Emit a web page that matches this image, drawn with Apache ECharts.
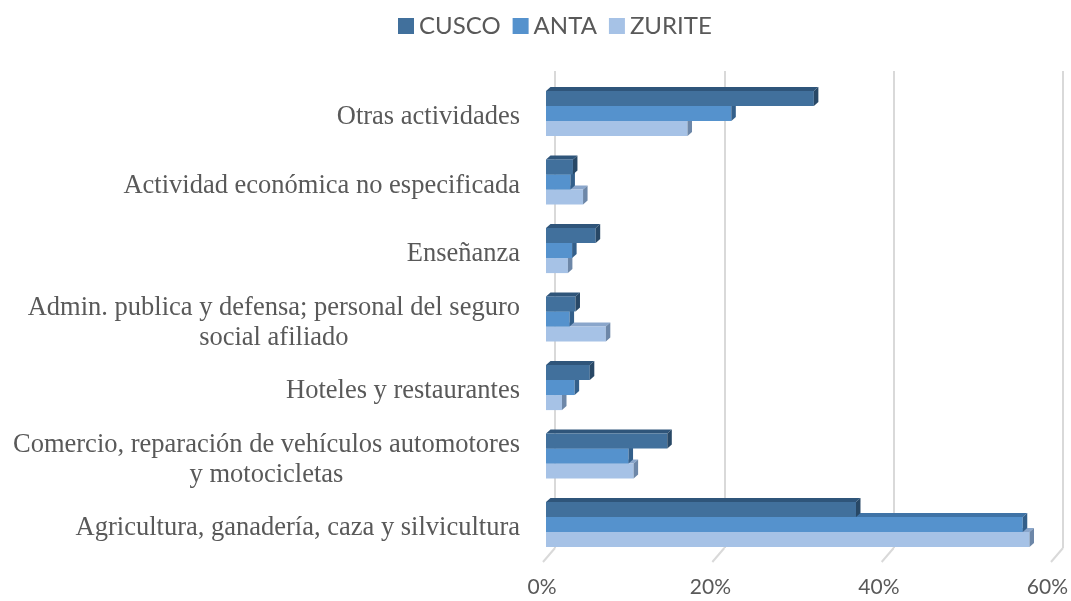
<!DOCTYPE html>
<html>
<head>
<meta charset="utf-8">
<script src="https://cdn.jsdelivr.net/npm/echarts@6/dist/echarts.min.js"></script>
<style>
 html, body { margin: 0; background: #fff; }
 #main { width: 1071px; height: 601px; }
</style>
</head>
<body>
<div id="main"></div>
<script>
// categorias de abajo hacia arriba
var categories = [
  'Agricultura, ganadería, caza y silvicultura',
  'Comercio, reparación de vehículos automotores\ny motocicletas',
  'Hoteles y restaurantes',
  'Admin. publica y defensa; personal del seguro\nsocial afiliado',
  'Enseñanza',
  'Actividad económica no especificada',
  'Otras actividades'
];
var cusco  = [36.8, 14.4, 5.2, 3.5, 5.9, 3.2, 31.8];
var anta   = [56.6, 9.8, 3.4, 2.8, 3.1, 2.9, 22.0];
var zurite = [57.4, 10.4, 1.9, 7.1, 2.6, 4.4, 16.8];
var xTicks = [0, 20, 40, 60];

var myChart = echarts.init(document.getElementById('main'));

// barra con efecto 3D (cara frontal, superior y lateral)
function bar3d(slot, front, top, side) {
  return function (params, api) {
    var v = api.value(0), c = api.value(1);
    var p0 = api.coord([0, c]), p1 = api.coord([v, c]);
    var band = api.size([0, 1])[1];
    var h = band * 0.22, dx = 4.5, dy = 4;
    var y0 = p0[1] - 1.5 * h + slot * h, y1 = y0 + h;
    var x0 = p0[0], x1 = p1[0];
    return {
      type: 'group',
      children: [
        { type: 'polygon', shape: { points: [[x0, y0], [x0 + dx, y0 - dy], [x1 + dx, y0 - dy], [x1, y0]] }, style: { fill: top } },
        { type: 'rect', shape: { x: x0, y: y0, width: x1 - x0, height: h }, style: { fill: front } },
        { type: 'polygon', shape: { points: [[x1, y0], [x1 + dx, y0 - dy], [x1 + dx, y1 - dy], [x1, y1]] }, style: { fill: side } }
      ]
    };
  };
}

function toData(arr) {
  return arr.map(function (v, i) { return [v, i]; });
}

var option = {
  animation: false,
  legend: {
    data: ['CUSCO', 'ANTA', 'ZURITE'],
    left: 393,
    top: 9,
    icon: 'rect',
    itemWidth: 16,
    itemHeight: 16,
    itemGap: 12,
    textStyle: { fontFamily: 'Lato', fontSize: 24, color: '#595959' }
  },
  grid: [
    { left: 546, right: 18, top: 79.25, bottom: 42.25 },   // barras
    { left: 555, right: 8, top: 71, bottom: 53 }            // pared del fondo
  ],
  xAxis: [
    {
      gridIndex: 0, type: 'value', min: 0, max: 60, interval: 20,
      splitLine: { show: false }, axisLine: { show: false }, axisTick: { show: false },
      axisLabel: {
        formatter: '{value}%', margin: 18, padding: [0, 8, 0, 0],
        fontFamily: 'Lato', fontSize: 21, color: '#595959'
      }
    },
    {
      gridIndex: 1, type: 'value', min: 0, max: 60, interval: 20,
      splitLine: { show: true, lineStyle: { color: '#d9d9d9', width: 2 } },
      axisLine: { show: false }, axisTick: { show: false }, axisLabel: { show: false }
    }
  ],
  yAxis: [
    {
      gridIndex: 0, type: 'category', data: categories,
      axisLine: { show: false }, axisTick: { show: false },
      axisLabel: {
        margin: 26,
        padding: [8, 0, 0, 0],
        formatter: function (val) {
          return val.split('\n').map(function (s) { return '{c|' + s + '}'; }).join('\n');
        },
        rich: {
          c: { align: 'center', fontFamily: 'Liberation Serif', fontSize: 26.5, lineHeight: 30, color: '#595959' }
        }
      }
    },
    { gridIndex: 1, type: 'value', min: 0, max: 1, show: false }
  ],
  series: [
    {
      // lineas del piso
      type: 'custom', xAxisIndex: 1, yAxisIndex: 1, silent: true, z: 1,
      data: xTicks.map(function (t) { return [t]; }),
      renderItem: function (params, api) {
        var p = api.coord([api.value(0), 0]);
        return { type: 'line', shape: { x1: p[0], y1: p[1], x2: p[0] - 12, y2: p[1] + 14 },
                 style: { stroke: '#d9d9d9', lineWidth: 2 } };
      }
    },
    {
      name: 'ZURITE', type: 'custom', xAxisIndex: 0, yAxisIndex: 0, z: 3,
      itemStyle: { color: '#a6c2e6' },
      encode: { x: 0, y: 1 },
      renderItem: bar3d(2, '#a6c2e6', '#8aa6cb', '#6d87a8'),
      data: toData(zurite)
    },
    {
      name: 'ANTA', type: 'custom', xAxisIndex: 0, yAxisIndex: 0, z: 4,
      itemStyle: { color: '#5592cd' },
      encode: { x: 0, y: 1 },
      renderItem: bar3d(1, '#5592cd', '#3f73a6', '#335f8a'),
      data: toData(anta)
    },
    {
      name: 'CUSCO', type: 'custom', xAxisIndex: 0, yAxisIndex: 0, z: 5,
      itemStyle: { color: '#41709c' },
      encode: { x: 0, y: 1 },
      renderItem: bar3d(0, '#41709c', '#2f557a', '#284866'),
      data: toData(cusco)
    }
  ]
};

myChart.setOption(option);
window.onresize = myChart.resize;
</script>
</body>
</html>
